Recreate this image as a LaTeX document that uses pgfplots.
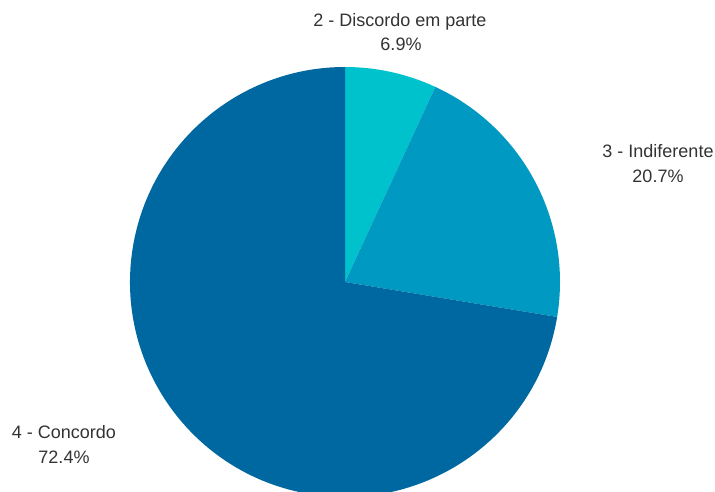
\documentclass[border=0pt]{standalone}
\usepackage{pgfplots}
\usepackage{pgfplotstable}
\pgfplotsset{compat=1.18}
\usepackage{fontspec}
\setmainfont{Liberation Sans}
\definecolor{cA}{HTML}{00C2CC}
\definecolor{cB}{HTML}{0099C2}
\definecolor{cC}{HTML}{0068A0}
\definecolor{txt}{HTML}{333333}

\pgfplotstableread{
value
6.9
20.7
72.4
}\piedata

\begin{document}%
\begin{tikzpicture}[x=1pt,y=1pt]
\pgfplotstablegetelem{0}{value}\of\piedata \let\va\pgfplotsretval
\pgfplotstablegetelem{1}{value}\of\piedata \let\vb\pgfplotsretval
\pgfplotstablegetelem{2}{value}\of\piedata \let\vc\pgfplotsretval
\pgfmathsetmacro\aA{90}
\pgfmathsetmacro\aB{90-3.6*\va}
\pgfmathsetmacro\aC{\aB-3.6*\vb}
\pgfmathsetmacro\aD{\aC-3.6*\vc}
\useasboundingbox (0,0) rectangle (715,492);
\clip (0,0) rectangle (715,492);
\begin{axis}[
  at={(345pt,210pt)}, anchor=origin,
  x=215pt, y=215pt,
  xmin=-1, xmax=1, ymin=-1, ymax=1,
  hide axis, clip=false,
]
\fill[cA] (axis cs:0,0) -- (axis cs:{cos(\aA)},{sin(\aA)}) arc[start angle=\aA, end angle=\aB, radius=215pt] -- cycle;
\fill[cB] (axis cs:0,0) -- (axis cs:{cos(\aB)},{sin(\aB)}) arc[start angle=\aB, end angle=\aC, radius=215pt] -- cycle;
\fill[cC] (axis cs:0,0) -- (axis cs:{cos(\aC)},{sin(\aC)}) arc[start angle=\aC, end angle=\aD, radius=215pt] -- cycle;
\end{axis}
\begin{scope}[every node/.style={inner sep=0pt, anchor=base, text=txt, font=\fontsize{18}{22}\selectfont}]
\node at (400,465.5) {2 - Discordo em parte};
\node at (401,441) {6.9\%};
\node at (658,334.5) {3 - Indiferente};
\node at (658,309.5) {20.7\%};
\node at (64,53) {4 - Concordo};
\node at (64,28) {72.4\%};
\end{scope}
\end{tikzpicture}%
\end{document}
